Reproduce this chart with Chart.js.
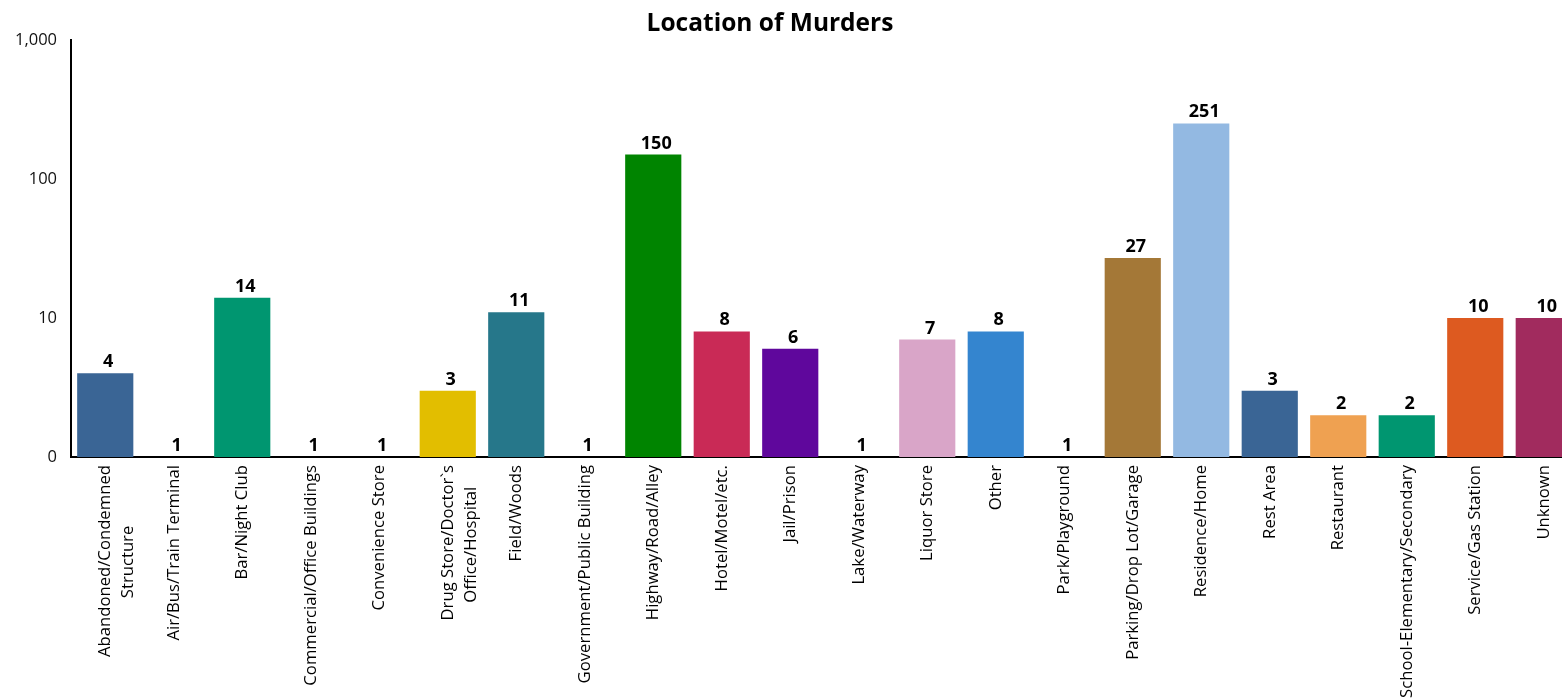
<!DOCTYPE html>
<html>
<head>
<meta charset="utf-8">
<title>Location of Murders</title>
<script src="https://cdn.jsdelivr.net/npm/chart.js@4/dist/chart.umd.min.js"></script>
<style>
  html, body { margin: 0; padding: 0; background: #fff; overflow: hidden; }
  #wrap { position: absolute; left: 0; top: 0; width: 1578px; height: 699px; }
</style>
</head>
<body>
<div id="wrap"><canvas id="murdersChart"></canvas></div>
<script>
// Data
const categories = [
    ['Abandoned/Condemned', 'Structure'],
    'Air/Bus/Train Terminal',
    'Bar/Night Club',
    'Commercial/Office Buildings',
    'Convenience Store',
    ['Drug Store/Doctor`s', 'Office/Hospital'],
    'Field/Woods',
    'Government/Public Building',
    'Highway/Road/Alley',
    'Hotel/Motel/etc.',
    'Jail/Prison',
    'Lake/Waterway',
    'Liquor Store',
    'Other',
    'Park/Playground',
    'Parking/Drop Lot/Garage',
    'Residence/Home',
    'Rest Area',
    'Restaurant',
    'School-Elementary/Secondary',
    'Service/Gas Station',
    'Unknown'
];
const murders = [4, 1, 14, 1, 1, 3, 11, 1, 150, 8, 6, 1, 7, 8, 1, 27, 251, 3, 2, 2, 10, 10];
const barColors = [
    '#3a6595', '#3a6595', '#009670', '#3a6595', '#3a6595', '#e2be00',
    '#26778a', '#3a6595', '#008400', '#c92a56', '#5f079c', '#3a6595',
    '#d9a5c8', '#3485cf', '#3a6595', '#a47837', '#93b9e2', '#3a6595',
    '#efa151', '#009670', '#dd5a20', '#a12b5e'
];
const tickValues = [1, 10, 100, 1000];
const tickLabels = ['0', '10', '100', '1,000'];

const FONT = '"Open Sans", "DejaVu Sans", sans-serif';
const X_FONT_SIZE = 16.7;

// rotated labels come out right-aligned; pad short lines so each line is centred
const measureCtx = document.createElement('canvas').getContext('2d');
function centreLines(label) {
    if (!Array.isArray(label)) return label;
    measureCtx.font = X_FONT_SIZE + 'px ' + FONT;
    const widths = label.map(l => measureCtx.measureText(l).width);
    const widest = Math.max.apply(null, widths);
    const space = measureCtx.measureText(' ').width;
    return label.map(function (l, i) {
        const n = Math.round((widest - widths[i]) / 2 / space);
        return l + ' '.repeat(n);
    });
}

// value labels above the bars
const valueLabels = {
    id: 'valueLabels',
    afterDatasetsDraw(chart) {
        const ctx = chart.ctx;
        const meta = chart.getDatasetMeta(0);
        ctx.save();
        ctx.font = 'bold 18px ' + FONT;
        ctx.fillStyle = '#000';
        ctx.textAlign = 'center';
        ctx.textBaseline = 'alphabetic';
        meta.data.forEach(function (bar, i) {
            ctx.fillText(String(murders[i]), bar.x + 3, bar.y - 6);
        });
        ctx.restore();
    }
};

// title drawn off-centre like the original sheet
const chartTitle = {
    id: 'chartTitle',
    afterDraw(chart) {
        const ctx = chart.ctx;
        ctx.save();
        ctx.font = 'bold 24.5px ' + FONT;
        ctx.fillStyle = '#000';
        ctx.textAlign = 'center';
        ctx.textBaseline = 'alphabetic';
        ctx.fillText('Location of Murders', 770, 31);
        ctx.restore();
    }
};

const ctx = document.getElementById('murdersChart').getContext('2d');
const murdersChart = new Chart(ctx, {
    type: 'bar',
    data: {
        labels: categories,
        datasets: [{
            label: 'Murders',
            data: murders,
            backgroundColor: barColors,
            barPercentage: 0.82,
            categoryPercentage: 1.0
        }]
    },
    options: {
        responsive: true,
        maintainAspectRatio: false,
        animation: false,
        layout: { padding: { top: 40, right: 0, left: 0, bottom: 0 } },
        plugins: {
            legend: { display: false },
            title: { display: false },
            tooltip: { enabled: false }
        },
        scales: {
            x: {
                grid: { display: false, drawTicks: false },
                border: { color: '#000', width: 2 },
                ticks: {
                    color: '#000',
                    font: { family: FONT, size: X_FONT_SIZE, lineHeight: 1.4 },
                    maxRotation: 90,
                    minRotation: 90,
                    autoSkip: false,
                    padding: 8,
                    callback: function (value, index) {
                        return centreLines(categories[index]);
                    }
                },
                afterFit(scale) { scale.height = 242; }
            },
            y: {
                type: 'logarithmic',
                min: 1,
                max: 1000,
                grid: { display: false, drawTicks: false },
                border: { color: '#000', width: 2 },
                ticks: {
                    color: '#111',
                    font: { family: FONT, size: 16.5 },
                    padding: 14,
                    callback: function (value) {
                        const i = tickValues.indexOf(value);
                        return i >= 0 ? tickLabels[i] : '';
                    }
                },
                afterBuildTicks(scale) {
                    scale.ticks = tickValues.map(v => ({ value: v }));
                },
                afterFit(scale) { scale.width = 71; }
            }
        }
    },
    plugins: [valueLabels, chartTitle]
});
</script>
</body>
</html>
